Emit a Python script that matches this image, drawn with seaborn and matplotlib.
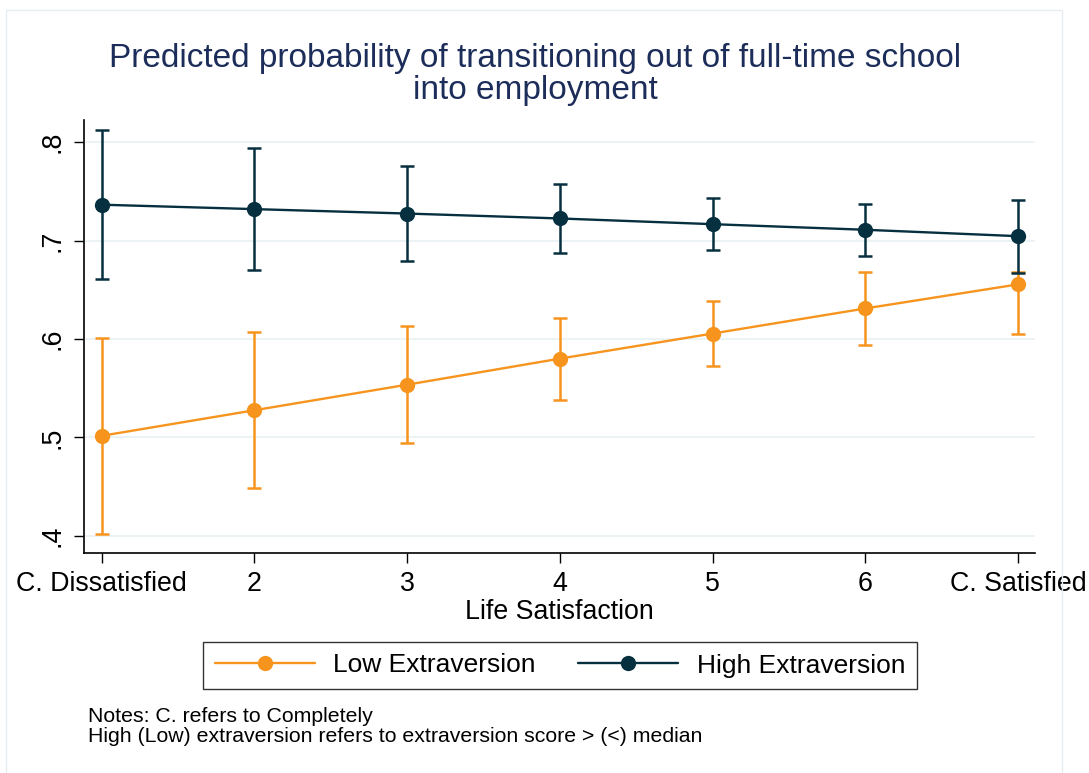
import matplotlib
matplotlib.use("Agg")
import matplotlib.pyplot as plt
from matplotlib.lines import Line2D
from matplotlib.patches import Rectangle
import numpy as np
import pandas as pd
import seaborn as sns

# Life satisfaction categories (x positions 1..7)
levels = [1, 2, 3, 4, 5, 6, 7]
tick_labels = ["C. Dissatisfied", "2", "3", "4", "5", "6", "C. Satisfied"]

# Predicted probabilities and 95% CI
low_est = [0.5015, 0.5275, 0.5535, 0.580, 0.6055, 0.631, 0.6555]
low_lo = [0.4015, 0.448, 0.4945, 0.538, 0.573, 0.594, 0.605]
low_hi = [0.601, 0.6075, 0.613, 0.6215, 0.6385, 0.668, 0.668]

high_est = [0.7365, 0.732, 0.7275, 0.7225, 0.7167, 0.711, 0.7045]
high_lo = [0.6605, 0.670, 0.6795, 0.687, 0.6907, 0.6843, 0.6673]
high_hi = [0.8125, 0.794, 0.7755, 0.7575, 0.7428, 0.7374, 0.7414]

groups = ["Low Extraversion", "High Extraversion"]
COLORS = {"Low Extraversion": "#F7941E", "High Extraversion": "#06303F"}
TITLE_COLOR = "#1C2D5A"

df = pd.concat([
    pd.DataFrame({"x": levels, "y": low_est, "lo": low_lo, "hi": low_hi,
                  "group": groups[0]}),
    pd.DataFrame({"x": levels, "y": high_est, "lo": high_lo, "hi": high_hi,
                  "group": groups[1]}),
], ignore_index=True)

sns.set_theme(style="white")
plt.rcParams["font.family"] = ["Liberation Sans", "DejaVu Sans"]
plt.rcParams["text.color"] = "black"

W, H = 1089, 773
fig = plt.figure(figsize=(W / 100, H / 100), dpi=100)
fig.patch.set_facecolor("white")
# faint outer frame of the graph region
fig.patches.append(Rectangle((6 / W, -0.01), (1062 - 6) / W, 1 - 10 / H + 0.01,
                             transform=fig.transFigure, fill=False,
                             edgecolor="#E6EDF0", lw=1.0))

ax = fig.add_axes([84 / W, 1 - 552.7 / H, (1035 - 84) / W, (552.7 - 120) / H])

for g in groups:
    sub = df[df["group"] == g]
    ax.errorbar(sub["x"], sub["y"],
                yerr=[sub["y"] - sub["lo"], sub["hi"] - sub["y"]],
                fmt="none", ecolor=COLORS[g], elinewidth=1.8,
                capsize=4.8, capthick=1.8, zorder=3)
    sns.lineplot(data=sub, x="x", y="y", color=COLORS[g], marker="o",
                 markersize=11, markeredgewidth=0, linewidth=1.7,
                 ax=ax, zorder=4, legend=False)

ax.set_xlim(0.885, 7.111)
ax.set_ylim(0.3827, 0.8226)
ax.set_xticks(levels)
ax.set_xticklabels(tick_labels)
yt = [0.4, 0.5, 0.6, 0.7, 0.8]
ax.set_yticks(yt)
ax.set_yticklabels([".4", ".5", ".6", ".7", ".8"], rotation=90, va="center")
for v in yt:
    ax.axhline(v, color="#EAF2F3", lw=1.3, zorder=1)

ax.tick_params(axis="both", direction="out", length=7.5, width=1.0,
               color="black", labelsize=19.3, labelcolor="black",
               left=True, bottom=True)
ax.tick_params(axis="x", pad=6)
ax.tick_params(axis="y", pad=6)
for s in ["top", "right"]:
    ax.spines[s].set_visible(False)
for s in ["left", "bottom"]:
    ax.spines[s].set_color("black")
    ax.spines[s].set_linewidth(1.2)

ax.set_xlabel("Life Satisfaction", fontsize=19.3, color="black", labelpad=1)
ax.set_ylabel("")

fig.text(535 / W, 1 - 58 / H,
         "Predicted probability of transitioning out of full-time school",
         ha="center", va="center", fontsize=24, color=TITLE_COLOR)
fig.text(535 / W, 1 - 90 / H, "into employment",
         ha="center", va="center", fontsize=24, color=TITLE_COLOR)

handles = [Line2D([], [], color=COLORS[g], lw=1.7, marker="o", markersize=11,
                  markeredgewidth=0) for g in groups]
leg = fig.legend(handles, groups, loc="center", ncol=2,
                 bbox_to_anchor=(560 / W, 1 - 665.5 / H), fontsize=19,
                 frameon=True, fancybox=False, handlelength=3.8,
                 handletextpad=0.7, columnspacing=1.6, borderpad=0.45)
leg.get_frame().set_edgecolor("black")
leg.get_frame().set_linewidth(1.0)
for t in leg.get_texts():
    t.set_color("black")

fig.text(88 / W, 1 - 722 / H, "Notes: C. refers to Completely",
         ha="left", va="baseline", fontsize=15.3, color="black")
fig.text(88 / W, 1 - 742 / H,
         "High (Low) extraversion refers to extraversion score > (<) median",
         ha="left", va="baseline", fontsize=15.3, color="black")

fig.savefig("out.png", dpi=100, facecolor="white")
